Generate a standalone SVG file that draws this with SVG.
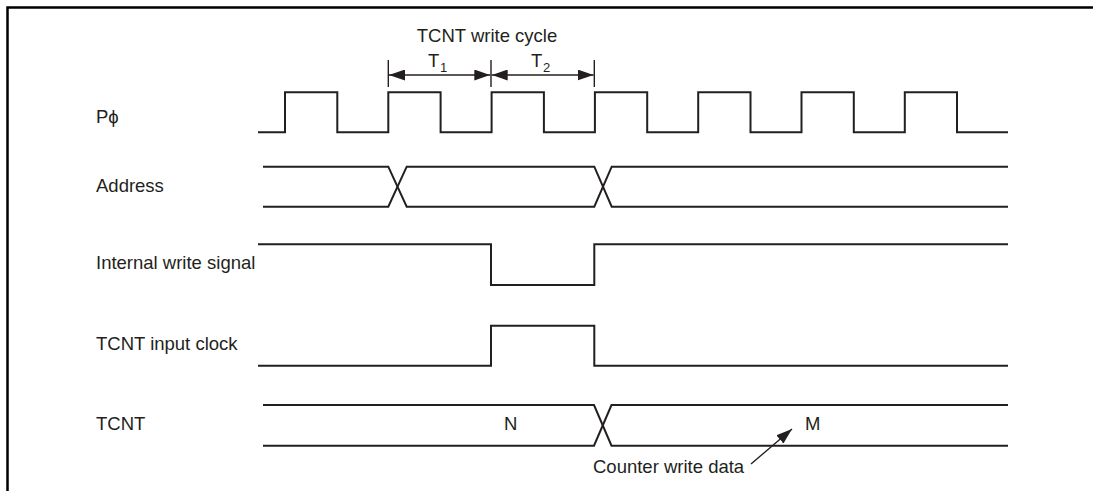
<svg xmlns="http://www.w3.org/2000/svg" width="1093" height="491" viewBox="0 0 1093 491">
<style>
.sig{fill:none;stroke:#231f20;stroke-width:2;stroke-linejoin:miter}
.frame{fill:none;stroke:#000;stroke-width:2.5}
.lbl{font-family:"Liberation Sans",Arial,sans-serif;font-size:18.5px;fill:#231f20}
.sub{font-family:"Liberation Sans",Arial,sans-serif;font-size:13px;fill:#231f20}
.dim{fill:none;stroke:#231f20;stroke-width:1.4}
</style>
<defs>
<marker id="ah" markerUnits="userSpaceOnUse" markerWidth="16" markerHeight="11" refX="16" refY="5.5" orient="auto-start-reverse" viewBox="0 0 16 11">
<path d="M0,0 L16,5.5 L0,11 z" fill="#231f20"/>
</marker>
</defs>
<path class="frame" d="M7.5,491 V7.5 H1093"/>
<text class="lbl" x="487" y="42" text-anchor="middle">TCNT write cycle</text>
<g id="pphi">
<text class="lbl" x="96" y="123">Pϕ</text>
<path class="sig" d="M258,132.3 H285 V92.3 H337.3 V132.3 H388.3 V92.3 H440.6 V132.3 H491.6 V92.3 H543.9 V132.3 H594.9 V92.3 H647.2 V132.3 H698.2 V92.3 H750.5 V132.3 H801.5 V92.3 H853.8 V132.3 H904.8 V92.3 H957 V132.3 H1008"/>
</g>
<g id="address">
<text class="lbl" x="96" y="192">Address</text>
<path class="sig" d="M263,166.7 H388.3 L406.7,206.7 H594.3 L611.7,166.7 H1008"/>
<path class="sig" d="M263,206.7 H388.3 L406.7,166.7 H594.3 L611.7,206.7 H1008"/>
</g>
<g id="internal-write">
<text class="lbl" x="96" y="269">Internal write signal</text>
<path class="sig" d="M258,244.3 H491 V285 H594.3 V244.3 H1008"/>
</g>
<g id="tcnt-input-clock">
<text class="lbl" x="96" y="350">TCNT input clock</text>
<path class="sig" d="M258,365.7 H491 V325.7 H594.3 V365.7 H1008"/>
</g>
<g id="tcnt">
<text class="lbl" x="96" y="430">TCNT</text>
<path class="sig" d="M263,405 H594 L611.5,445.7 H1008"/>
<path class="sig" d="M263,445.7 H594 L611.5,405 H1008"/>
<text class="lbl" x="504" y="430">N</text>
<text class="lbl" x="805" y="430">M</text>
</g>
<g id="t1">
<text class="lbl" x="428" y="67">T</text>
<text class="sub" x="440" y="72">1</text>
</g>
<g id="t2">
<text class="lbl" x="531" y="67">T</text>
<text class="sub" x="543" y="72">2</text>
</g>
<g id="counter-write-data">
<text class="lbl" x="593" y="473">Counter write data</text>
</g>
<g id="connectors">
<path class="dim" d="M388.3,60 V87 M491,60 V87 M594.3,60 V87"/>
<path class="dim" d="M389,75 H490.3" marker-start="url(#ah)" marker-end="url(#ah)"/>
<path class="dim" d="M491.7,75 H593.6" marker-start="url(#ah)" marker-end="url(#ah)"/>
<path class="dim" d="M751,464 L792,429" marker-end="url(#ah)"/>
</g>
</svg>
